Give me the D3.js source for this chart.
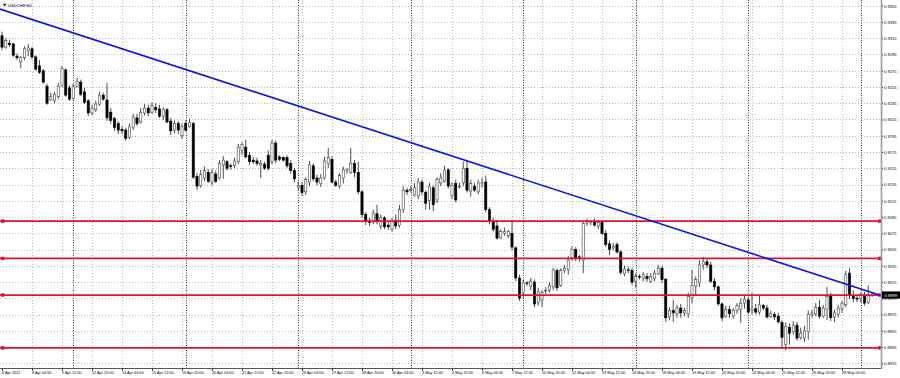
<!DOCTYPE html>
<html>
<head>
<meta charset="utf-8">
<script src="https://cdn.jsdelivr.net/npm/d3@7"></script>
<style>
  html, body { margin: 0; padding: 0; background: #fff; overflow: hidden; }
  svg { display: block; font-family: "Liberation Sans", Arial, sans-serif; }
</style>
</head>
<body>
<svg id="chart" width="900" height="378"></svg>
<script>
// USDCHF H4, 6 Apr 2021 20:00 -> 31 May 2021
const symbol = "USDCHF,H4";

const opens = [
  0.9318,0.9304,0.9309,0.9308,0.9293,0.9286,0.9291,0.9300,0.9302,0.9292,
  0.9281,0.9275,0.9256,0.9239,0.9238,0.9243,0.9257,0.9276,0.9254,0.9241,
  0.9256,0.9261,0.9249,0.9238,0.9223,0.9227,0.9234,0.9245,0.9239,0.9224,
  0.9216,0.9210,0.9203,0.9202,0.9193,0.9205,0.9217,0.9212,0.9223,0.9229,
  0.9224,0.9230,0.9228,0.9219,0.9227,0.9213,0.9202,0.9210,0.9195,0.9210,
  0.9206,0.9210,0.9145,0.9134,0.9143,0.9150,0.9138,0.9148,0.9143,0.9159,
  0.9163,0.9158,0.9158,0.9163,0.9177,0.9181,0.9171,0.9165,0.9164,0.9159,
  0.9160,0.9171,0.9163,0.9186,0.9169,0.9168,0.9168,0.9161,0.9152,0.9132,
  0.9134,0.9126,0.9138,0.9158,0.9143,0.9136,0.9143,0.9161,0.9166,0.9138,
  0.9133,0.9143,0.9152,0.9150,0.9161,0.9150,0.9126,0.9098,0.9090,0.9089,
  0.9099,0.9084,0.9094,0.9085,0.9080,0.9091,0.9085,0.9104,0.9128,0.9128,
  0.9122,0.9121,0.9138,0.9125,0.9115,0.9131,0.9116,0.9137,0.9139,0.9153,
  0.9121,0.9136,0.9132,0.9137,0.9155,0.9127,0.9133,0.9126,0.9136,0.9138,
  0.9104,0.9090,0.9084,0.9070,0.9075,0.9072,0.9075,0.9057,0.9020,0.9002,
  0.9014,0.9010,0.9015,0.8990,0.8993,0.9004,0.9005,0.9009,0.9029,0.9011,
  0.9029,0.9030,0.9045,0.9055,0.9046,0.9042,0.9087,0.9088,0.9089,0.9084,
  0.9088,0.9075,0.9062,0.9057,0.9061,0.9052,0.9025,0.9030,0.9029,0.9016,
  0.9022,0.9020,0.9022,0.9016,0.9019,0.9025,0.9032,0.9018,0.8972,0.8980,
  0.8976,0.8983,0.8977,0.8976,0.8996,0.9010,0.9014,0.9036,0.9040,0.9036,
  0.9016,0.9009,0.8988,0.8973,0.8981,0.8973,0.8980,0.8981,0.8989,0.8993,
  0.8980,0.8982,0.8978,0.8986,0.8983,0.8973,0.8975,0.8973,0.8965,0.8938,
  0.8959,0.8954,0.8962,0.8947,0.8946,0.8954,0.8975,0.8976,0.8984,0.8973,
  0.8981,0.8998,0.8972,0.8975,0.8982,0.8987,0.9026,0.8998,0.8995,0.8995,
  0.8999,0.8990,0.8998
];

const highs = [
  0.9323,0.9315,0.9313,0.9309,0.9296,0.9293,0.9305,0.9308,0.9304,0.9294,
  0.9288,0.9277,0.9259,0.9248,0.9249,0.9260,0.9281,0.9278,0.9257,0.9259,
  0.9266,0.9264,0.9254,0.9240,0.9233,0.9238,0.9249,0.9248,0.9260,0.9229,
  0.9218,0.9213,0.9207,0.9205,0.9210,0.9222,0.9222,0.9229,0.9234,0.9233,
  0.9236,0.9235,0.9233,0.9230,0.9229,0.9217,0.9214,0.9213,0.9210,0.9214,
  0.9216,0.9212,0.9149,0.9153,0.9157,0.9154,0.9154,0.9152,0.9165,0.9170,
  0.9165,0.9161,0.9168,0.9185,0.9187,0.9190,0.9175,0.9169,0.9168,0.9165,
  0.9163,0.9177,0.9190,0.9189,0.9171,0.9170,0.9171,0.9165,0.9155,0.9138,
  0.9138,0.9144,0.9164,0.9161,0.9147,0.9148,0.9169,0.9180,0.9170,0.9141,
  0.9149,0.9157,0.9155,0.9180,0.9165,0.9163,0.9128,0.9101,0.9094,0.9104,
  0.9110,0.9098,0.9096,0.9090,0.9094,0.9098,0.9110,0.9133,0.9131,0.9133,
  0.9137,0.9143,0.9141,0.9128,0.9137,0.9134,0.9144,0.9149,0.9158,0.9155,
  0.9138,0.9141,0.9137,0.9163,0.9165,0.9141,0.9137,0.9141,0.9143,0.9146,
  0.9107,0.9094,0.9091,0.9080,0.9082,0.9079,0.9091,0.9059,0.9024,0.9018,
  0.9016,0.9020,0.9018,0.9008,0.9005,0.9009,0.9015,0.9032,0.9032,0.9032,
  0.9036,0.9047,0.9059,0.9058,0.9048,0.9091,0.9093,0.9091,0.9093,0.9091,
  0.9090,0.9079,0.9066,0.9063,0.9064,0.9054,0.9035,0.9034,0.9032,0.9026,
  0.9025,0.9027,0.9026,0.9026,0.9030,0.9036,0.9035,0.9020,0.8984,0.8993,
  0.8987,0.8988,0.8983,0.9002,0.9030,0.9022,0.9042,0.9046,0.9043,0.9040,
  0.9020,0.9011,0.8990,0.8986,0.8986,0.8983,0.8989,0.8995,0.8999,0.8997,
  0.9002,0.8988,0.8999,0.8988,0.8987,0.8980,0.8978,0.8977,0.8968,0.8965,
  0.8964,0.8967,0.8966,0.8959,0.8961,0.8980,0.8981,0.8989,0.8993,0.8987,
  0.9009,0.9002,0.8981,0.8987,0.8992,0.9029,0.9032,0.9005,0.8998,0.9002,
  0.9003,0.9011,0.9003
];

const lows = [
  0.9300,0.9302,0.9304,0.9292,0.9288,0.9278,0.9288,0.9293,0.9289,0.9275,
  0.9271,0.9259,0.9233,0.9238,0.9235,0.9240,0.9255,0.9243,0.9238,0.9239,
  0.9254,0.9244,0.9234,0.9219,0.9220,0.9224,0.9232,0.9238,0.9213,0.9210,
  0.9201,0.9197,0.9197,0.9189,0.9191,0.9202,0.9207,0.9210,0.9220,0.9219,
  0.9222,0.9223,0.9217,0.9214,0.9210,0.9196,0.9198,0.9197,0.9191,0.9200,
  0.9205,0.9142,0.9128,0.9131,0.9139,0.9137,0.9134,0.9137,0.9141,0.9142,
  0.9152,0.9153,0.9155,0.9160,0.9171,0.9167,0.9159,0.9160,0.9158,0.9143,
  0.9153,0.9152,0.9160,0.9161,0.9164,0.9163,0.9155,0.9148,0.9138,0.9128,
  0.9121,0.9122,0.9133,0.9139,0.9134,0.9132,0.9141,0.9155,0.9136,0.9132,
  0.9130,0.9136,0.9148,0.9148,0.9144,0.9123,0.9094,0.9085,0.9084,0.9086,
  0.9086,0.9080,0.9080,0.9079,0.9077,0.9080,0.9082,0.9100,0.9122,0.9125,
  0.9120,0.9117,0.9122,0.9104,0.9104,0.9102,0.9112,0.9133,0.9137,0.9130,
  0.9117,0.9113,0.9130,0.9133,0.9125,0.9120,0.9126,0.9123,0.9131,0.9101,
  0.9086,0.9077,0.9067,0.9068,0.9072,0.9069,0.9054,0.9016,0.8992,0.8995,
  0.9010,0.9005,0.8984,0.8986,0.8984,0.9000,0.9002,0.9005,0.9004,0.9009,
  0.9026,0.9024,0.9041,0.9041,0.9040,0.9026,0.9084,0.9085,0.9083,0.9080,
  0.9073,0.9058,0.9048,0.9054,0.9050,0.9024,0.9022,0.9026,0.9011,0.9008,
  0.9018,0.9016,0.9015,0.9014,0.9016,0.9024,0.9014,0.8966,0.8968,0.8966,
  0.8971,0.8971,0.8973,0.8971,0.8989,0.8999,0.9009,0.9030,0.9032,0.9014,
  0.9005,0.8986,0.8967,0.8971,0.8971,0.8970,0.8976,0.8965,0.8982,0.8976,
  0.8975,0.8975,0.8975,0.8980,0.8970,0.8971,0.8968,0.8964,0.8933,0.8931,
  0.8938,0.8950,0.8943,0.8944,0.8941,0.8944,0.8971,0.8973,0.8970,0.8971,
  0.8968,0.8967,0.8966,0.8971,0.8977,0.8984,0.8994,0.8990,0.8990,0.8990,
  0.8986,0.8988,0.8997
];

const closes = [
  0.9304,0.9312,0.9307,0.9294,0.9291,0.9291,0.9302,0.9303,0.9292,0.9277,
  0.9273,0.9261,0.9235,0.9243,0.9246,0.9256,0.9278,0.9245,0.9240,0.9256,
  0.9262,0.9246,0.9236,0.9223,0.9229,0.9234,0.9245,0.9240,0.9217,0.9214,
  0.9205,0.9202,0.9201,0.9192,0.9206,0.9218,0.9210,0.9224,0.9229,0.9223,
  0.9232,0.9227,0.9219,0.9227,0.9212,0.9201,0.9210,0.9202,0.9206,0.9202,
  0.9211,0.9144,0.9133,0.9147,0.9152,0.9139,0.9150,0.9139,0.9161,0.9165,
  0.9155,0.9157,0.9164,0.9181,0.9184,0.9169,0.9163,0.9163,0.9161,0.9161,
  0.9155,0.9155,0.9186,0.9165,0.9166,0.9165,0.9158,0.9152,0.9142,0.9134,
  0.9125,0.9141,0.9159,0.9142,0.9138,0.9143,0.9164,0.9168,0.9138,0.9134,
  0.9146,0.9153,0.9153,0.9161,0.9150,0.9126,0.9098,0.9090,0.9088,0.9100,
  0.9089,0.9094,0.9083,0.9083,0.9089,0.9084,0.9104,0.9128,0.9126,0.9129,
  0.9131,0.9138,0.9126,0.9112,0.9133,0.9110,0.9141,0.9143,0.9153,0.9133,
  0.9134,0.9116,0.9133,0.9155,0.9128,0.9136,0.9128,0.9137,0.9137,0.9104,
  0.9090,0.9080,0.9069,0.9077,0.9077,0.9077,0.9058,0.9020,0.8995,0.9014,
  0.9013,0.9016,0.8988,0.9003,0.9002,0.9005,0.9011,0.9030,0.9008,0.9029,
  0.9032,0.9042,0.9055,0.9045,0.9045,0.9087,0.9089,0.9089,0.9085,0.9088,
  0.9075,0.9061,0.9055,0.9059,0.9052,0.9027,0.9031,0.9029,0.9015,0.9022,
  0.9021,0.9024,0.9019,0.9022,0.9026,0.9032,0.9018,0.8971,0.8980,0.8977,
  0.8983,0.8977,0.8980,0.8997,0.9011,0.9018,0.9036,0.9040,0.9036,0.9016,
  0.9009,0.8988,0.8971,0.8981,0.8976,0.8980,0.8986,0.8989,0.8994,0.8978,
  0.8982,0.8978,0.8987,0.8983,0.8972,0.8976,0.8972,0.8966,0.8947,0.8960,
  0.8952,0.8962,0.8946,0.8952,0.8955,0.8975,0.8977,0.8984,0.8973,0.8983,
  0.8997,0.8971,0.8977,0.8983,0.8989,0.9024,0.8998,0.8995,0.8994,0.8998,
  0.8989,0.8998,0.8999
];

// time axis labels (bar index -> text), one every 8 H4 bars
const timeTickBars = [0,8,16,24,32,40,48,56,64,72,80,88,96,104,112,120,128,136,144,152,160,168,176,184,192,200,208,216,224];
const timeTickLabels = ["6 Apr 2021","8 Apr 04:00","9 Apr 12:00","12 Apr 20:00","14 Apr 04:00","15 Apr 12:00",
  "16 Apr 20:00","20 Apr 04:00","21 Apr 12:00","22 Apr 20:00","26 Apr 04:00","27 Apr 12:00","28 Apr 20:00",
  "30 Apr 04:00","3 May 12:00","4 May 20:00","6 May 04:00","7 May 12:00","10 May 20:00","12 May 04:00",
  "13 May 12:00","14 May 20:00","18 May 04:00","19 May 12:00","20 May 20:00","24 May 04:00","25 May 12:00",
  "26 May 20:00","28 May 04:00"];
// weekly period separators (Monday 00:00 bars)
const weekBars = [19,49,79,109,139,169,199,229];

const priceTicks = [0.9355,0.9335,0.9315,0.9295,0.9275,0.9255,0.9235,0.9215,0.9195,0.9175,0.9155,0.9135,
  0.9115,0.9095,0.9075,0.9055,0.9035,0.9015,0.8995,0.8975,0.8955,0.8935,0.8915];

// drawn objects
const levels = [0.9090, 0.9044, 0.8999, 0.8934];
const trendBars = [0, 232];
const trendPrices = [0.9350, 0.9002];
const lastPrice = 0.8999;

const plotRight = 881, plotBottom = 368;

const svg = d3.select("#chart");

const x = d3.scaleLinear().domain([0, 232]).range([2, 872]);
const y = d3.scaleLinear().domain([0.8915, 0.9355]).range([363.3, 5.7]);

svg.append("defs").append("clipPath").attr("id", "plot")
  .append("rect").attr("x", 0).attr("y", 0).attr("width", plotRight).attr("height", plotBottom);

// grid
const grid = svg.append("g").attr("clip-path", "url(#plot)");
grid.selectAll("line.h").data(priceTicks).join("line")
  .attr("class", "h")
  .attr("x1", 0).attr("x2", plotRight)
  .attr("y1", d => Math.round(y(d)) + 0.5).attr("y2", d => Math.round(y(d)) + 0.5)
  .attr("stroke", "#bdbdbd").attr("stroke-width", 1).attr("stroke-dasharray", "1,2");
grid.selectAll("line.v").data(timeTickBars.slice(1)).join("line")
  .attr("class", "v")
  .attr("x1", d => Math.round(x(d)) + 0.5).attr("x2", d => Math.round(x(d)) + 0.5)
  .attr("y1", 0).attr("y2", plotBottom)
  .attr("stroke", "#bdbdbd").attr("stroke-width", 1).attr("stroke-dasharray", "1,2");
grid.selectAll("line.w").data(weekBars).join("line")
  .attr("class", "w")
  .attr("x1", d => Math.round(x(d)) + 0.5).attr("x2", d => Math.round(x(d)) + 0.5)
  .attr("y1", 0).attr("y2", plotBottom)
  .attr("stroke", "#333").attr("stroke-width", 1).attr("stroke-dasharray", "1,1.5");

// candles
const bars = d3.range(closes.length);
const candles = svg.append("g").attr("clip-path", "url(#plot)");
candles.selectAll("line.wick").data(bars).join("line")
  .attr("class", "wick")
  .attr("x1", i => x(i)).attr("x2", i => x(i))
  .attr("y1", i => y(highs[i])).attr("y2", i => y(lows[i]))
  .attr("stroke", "#000").attr("stroke-width", 0.7);
candles.selectAll("rect.body").data(bars).join("rect")
  .attr("class", "body")
  .attr("x", i => x(i) - 1.1)
  .attr("width", 2.2)
  .attr("y", i => y(Math.max(opens[i], closes[i])))
  .attr("height", i => Math.max(0.7, Math.abs(y(opens[i]) - y(closes[i]))))
  .attr("fill", i => closes[i] >= opens[i] ? "#fff" : "#000")
  .attr("stroke", i => closes[i] >= opens[i] ? "#444" : "#000").attr("stroke-width", 0.6);

// horizontal levels
const objs = svg.append("g");
objs.selectAll("line.lvl").data(levels).join("line")
  .attr("class", "lvl")
  .attr("x1", 0).attr("x2", plotRight - 1)
  .attr("y1", d => y(d)).attr("y2", d => y(d))
  .attr("stroke", "#dc1432").attr("stroke-width", 1.8);
objs.selectAll("rect.lh").data(levels.flatMap(d => [[1, d], [878, d]])).join("rect")
  .attr("class", "lh")
  .attr("x", d => d[0]).attr("y", d => y(d[1]) - 1.7)
  .attr("width", 3.4).attr("height", 3.4)
  .attr("fill", "#dc1432");

// trend line (ray to the right edge)
const slope = (trendPrices[1] - trendPrices[0]) / (trendBars[1] - trendBars[0]);
const b0 = x.invert(0), b1 = x.invert(plotRight);
objs.append("line")
  .attr("x1", 0).attr("y1", y(trendPrices[0] + slope * (b0 - trendBars[0])))
  .attr("x2", plotRight).attr("y2", y(trendPrices[0] + slope * (b1 - trendBars[0])))
  .attr("stroke", "#0a14e6").attr("stroke-width", 1.6);

// axes
const yAxis = d3.axisRight(y).tickValues(priceTicks).tickSize(2).tickPadding(1).tickFormat(d3.format(".4f"));
const gy = svg.append("g").attr("transform", `translate(${plotRight},0)`).call(yAxis);
gy.select(".domain").remove();
gy.selectAll("text").attr("font-size", 4.1).attr("fill", "#000").attr("font-family", "Liberation Sans, Arial, sans-serif");

const xAxis = d3.axisBottom(x).tickValues(timeTickBars).tickSize(2.5).tickPadding(1)
  .tickFormat((d, i) => timeTickLabels[i]);
const gx = svg.append("g").attr("transform", `translate(0,${plotBottom})`).call(xAxis);
gx.select(".domain").remove();
gx.selectAll("text").attr("text-anchor", "start").attr("dx", -0.5).attr("font-size", 3.8)
  .attr("fill", "#000").attr("font-family", "Liberation Sans, Arial, sans-serif");

// frame
svg.append("line").attr("x1", 0).attr("x2", plotRight + 1).attr("y1", plotBottom + 0.5).attr("y2", plotBottom + 0.5)
  .attr("stroke", "#555").attr("stroke-width", 1);
svg.append("line").attr("x1", plotRight + 0.5).attr("x2", plotRight + 0.5).attr("y1", 0).attr("y2", plotBottom + 1)
  .attr("stroke", "#9a9a9a").attr("stroke-width", 1.6);

// last price box
const lp = svg.append("g").attr("transform", `translate(${plotRight + 1},${y(lastPrice)})`);
lp.append("rect").attr("x", 0).attr("y", -3.6).attr("width", 18).attr("height", 7.2).attr("fill", "#000");
lp.append("text").attr("x", 2.5).attr("y", 1.5).attr("font-size", 4.1).attr("fill", "#fff").text(d3.format(".4f")(lastPrice));

// title
const title = svg.append("g").attr("transform", "translate(3,6)");
title.append("path").attr("d", "M0,-2.2 L3.4,-2.2 L1.7,0.3 Z").attr("fill", "#000");
title.append("text").attr("x", 5).attr("y", 0.5).attr("font-size", 4.2).attr("fill", "#000").text(symbol);
</script>
</body>
</html>
